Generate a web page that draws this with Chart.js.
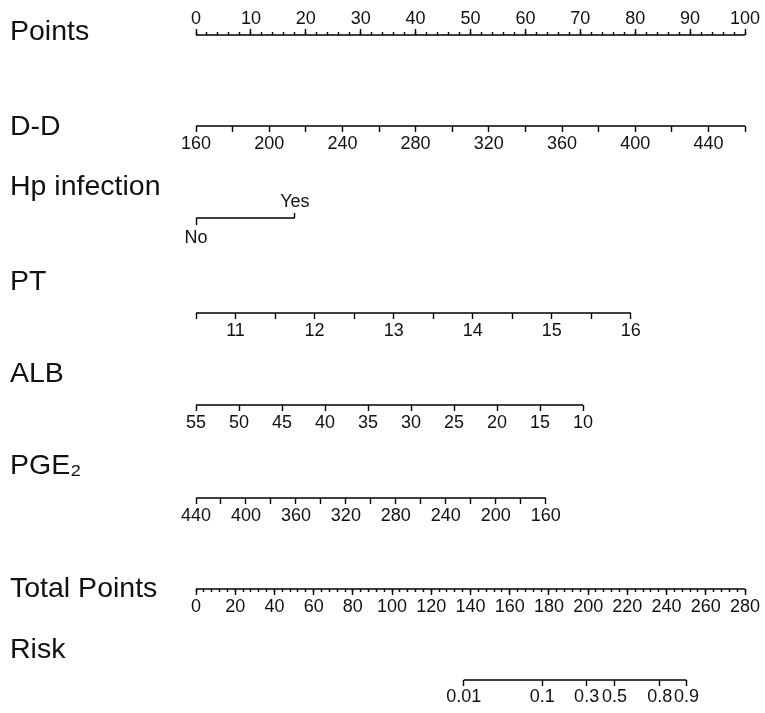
<!DOCTYPE html>
<html>
<head>
<meta charset="utf-8">
<script src="https://cdn.jsdelivr.net/npm/chart.js@4.4.1/dist/chart.umd.min.js"></script>
<style>
  html, body { margin: 0; padding: 0; background: #fff; }
</style>
</head>
<body>
<canvas id="nomogram" width="765" height="713"></canvas>
<script>
// values
const rowTitles = ['Points', 'D-D', 'Hp infection', 'PT', 'ALB', 'PGE₂', 'Total Points', 'Risk'];

const pointTicks = [0, 10, 20, 30, 40, 50, 60, 70, 80, 90, 100];

const ddTicks = [160, 180, 200, 220, 240, 260, 280, 300, 320, 340, 360, 380, 400, 420, 440, 460];
const ddLabels = ['160', '', '200', '', '240', '', '280', '', '320', '', '360', '', '400', '', '440', ''];
const ddPoints = [0, 100];          // points at 160 and at 460

const hpLevels = ['No', 'Yes'];
const hpPoints = [0, 18];

const ptTicks = [10.5, 11, 11.5, 12, 12.5, 13, 13.5, 14, 14.5, 15, 15.5, 16];
const ptLabels = ['', '11', '', '12', '', '13', '', '14', '', '15', '', '16'];
const ptPoints = [0, 79.2];         // points at 10.5 and at 16

const albTicks = [55, 50, 45, 40, 35, 30, 25, 20, 15, 10];
const albPoints = [0, 70.5];        // points at 55 and at 10

const pgeTicks = [440, 420, 400, 380, 360, 340, 320, 300, 280, 260, 240, 220, 200, 180, 160];
const pgeLabels = ['440', '', '400', '', '360', '', '320', '', '280', '', '240', '', '200', '', '160'];
const pgePoints = [0, 63.7];        // points at 440 and at 160

const totalTicks = [0, 20, 40, 60, 80, 100, 120, 140, 160, 180, 200, 220, 240, 260, 280];

const riskTicks = [0.01, 0.1, 0.3, 0.5, 0.8, 0.9];
const riskMidpoint = 213.4;         // total points where risk = 0.5
const riskSlope = 0.0598;           // logit per total point

// layout (pixels, via a hidden y scale that runs 0..713)
const rowY = [35, 126, 218, 313, 405, 498, 589, 680];
const titleY = [32, 127, 187, 282, 374, 466, 589, 650];

const FONT = '"Liberation Sans", Arial, Helvetica, sans-serif';
const INK = '#111';

function range(a, b, step) {
  const out = [];
  for (let v = a; v <= b + 1e-9; v += step) out.push(+v.toFixed(4));
  return out;
}

// value -> points along a row
function toPoints(ticks, pts) {
  const lo = ticks[0], hi = ticks[ticks.length - 1];
  return ticks.map(v => pts[0] + (v - lo) / (hi - lo) * (pts[1] - pts[0]));
}

const riskPos = riskTicks.map(p => riskMidpoint + Math.log(p / (1 - p)) / riskSlope);

function rowAxis(y, at, labels, o) {
  return {
    type: 'linear',
    position: { y: y },
    min: 0,
    max: o.max || 100,
    afterBuildTicks: s => { s.ticks = at.map(v => ({ value: v })); },
    grid: {
      display: true,
      drawOnChartArea: false,
      drawTicks: true,
      tickLength: o.tl,
      tickWidth: 1.4,
      tickColor: '#000'
    },
    border: { display: false },
    ticks: {
      display: !!labels,
      autoSkip: false,
      maxRotation: 0,
      minRotation: 0,
      padding: o.pad || 0,
      color: INK,
      font: { family: FONT, size: 18 },
      callback: (v, i) => labels ? labels[i] : ''
    }
  };
}

function segment(axisID, y, xs) {
  return {
    xAxisID: axisID,
    yAxisID: 'y',
    showLine: true,
    data: [{ x: Math.min(...xs), y: y }, { x: Math.max(...xs), y: y }],
    borderColor: '#000',
    borderWidth: 1.5,
    pointRadius: 0
  };
}

const ddPos = toPoints(ddTicks, ddPoints);
const ptPos = toPoints(ptTicks, ptPoints);
const albPos = toPoints(albTicks, albPoints);
const pgePos = toPoints(pgeTicks, pgePoints);

const titlePlugin = {
  id: 'rowTitles',
  afterDraw(chart) {
    const ctx = chart.ctx;
    const ys = chart.scales.y;
    ctx.save();
    ctx.font = '28.5px ' + FONT;
    ctx.fillStyle = INK;
    ctx.textBaseline = 'middle';
    ctx.textAlign = 'left';
    rowTitles.forEach((t, i) => ctx.fillText(t, 10, ys.getPixelForValue(titleY[i])));
    ctx.restore();
  }
};

new Chart(document.getElementById('nomogram'), {
  type: 'scatter',
  data: {
    datasets: [
      segment('xPts', rowY[0], [0, 100]),
      segment('xDD', rowY[1], ddPos),
      segment('xHpNo', rowY[2], hpPoints),
      segment('xPT', rowY[3], ptPos),
      segment('xALB', rowY[4], albPos),
      segment('xPGE', rowY[5], pgePos),
      segment('xTot', rowY[6], [0, 280]),
      segment('xRisk', rowY[7], riskPos)
    ]
  },
  options: {
    responsive: false,
    devicePixelRatio: 1,
    animation: false,
    events: [],
    layout: { padding: { left: 196, right: 20, top: 0, bottom: 0 } },
    plugins: { legend: { display: false }, tooltip: { enabled: false } },
    scales: {
      y: { type: 'linear', min: 0, max: 713, reverse: true, display: false },
      xPts: rowAxis(rowY[0], pointTicks, pointTicks.map(String), { tl: -6, pad: -21 }),
      xPtsMinor: rowAxis(rowY[0], range(0, 100, 2), null, { tl: -3 }),
      xDD: rowAxis(rowY[1], ddPos, ddLabels, { tl: 6, pad: 1 }),
      xHpNo: rowAxis(rowY[2], [hpPoints[0]], [hpLevels[0]], { tl: 7, pad: 2 }),
      xHpYes: rowAxis(rowY[2], [hpPoints[1]], [hpLevels[1]], { tl: -5, pad: -22 }),
      xPT: rowAxis(rowY[3], ptPos, ptLabels, { tl: 6, pad: 1 }),
      xALB: rowAxis(rowY[4], albPos, albTicks.map(String), { tl: 6, pad: 1 }),
      xPGE: rowAxis(rowY[5], pgePos, pgeLabels, { tl: 6, pad: 1 }),
      xTot: rowAxis(rowY[6], totalTicks, totalTicks.map(String), { tl: 6, pad: 1, max: 280 }),
      xTotMinor: rowAxis(rowY[6], range(0, 280, 4), null, { tl: 3, max: 280 }),
      xRisk: rowAxis(rowY[7], riskPos, riskTicks.map(String), { tl: 6, pad: 0, max: 280 })
    }
  },
  plugins: [titlePlugin]
});
</script>
</body>
</html>
